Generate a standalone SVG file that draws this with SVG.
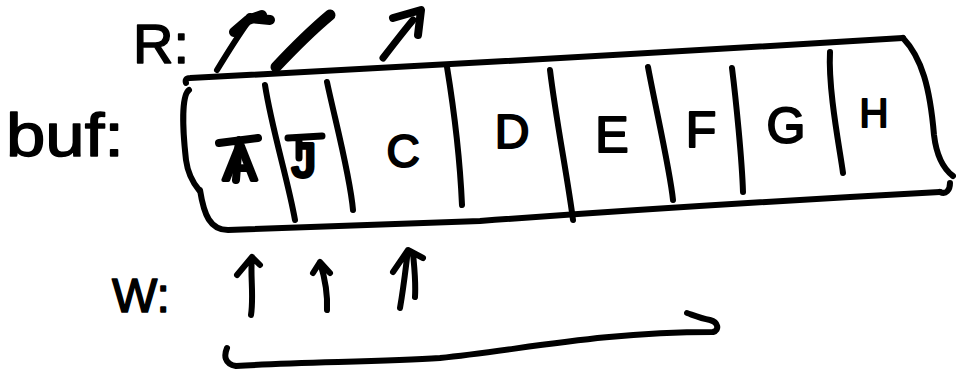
<svg xmlns="http://www.w3.org/2000/svg" width="956" height="375" viewBox="0 0 956 375">
<style>
.s{fill:none;stroke:#000;stroke-width:6;stroke-linecap:round;stroke-linejoin:round}
.t{stroke:#000;stroke-width:2;stroke-linejoin:round;font-family:"Liberation Sans","DejaVu Sans",sans-serif;fill:#000;text-anchor:middle}
.l{stroke:#000;stroke-width:1.5;stroke-linejoin:round;font-family:"Liberation Sans","DejaVu Sans",sans-serif;fill:#000}
</style>
<rect width="956" height="375" fill="#fff"/>
<g id="labels">
<text class="l" x="133" y="63" font-size="56">R:</text>
<text class="l" x="6" y="156" font-size="62" textLength="118" lengthAdjust="spacingAndGlyphs">buf:</text>
<text class="l" x="112" y="312" font-size="48">W:</text>
</g>
<g id="buffer">
<path class="s" d="M186,83 C185,80 186,78 190,78 Q540,60 903,38"/>
<path class="s" d="M903,38 C922,58 930,88 934,135 C937,160 945,170 953,176"/>
<path class="s" d="M950,183 C950,190 946,195 940,192"/>
<path class="s" d="M940,192 Q700,205 480,221 L228,230 C210,230 204,215 200,190"/>
<path class="s" d="M189,90 C182,95 182,125 186,160 C188,175 194,184 199,190"/>
</g>
<g id="dividers">
<path class="s" d="M265,85 C272,130 288,180 295,220"/>
<path class="s" d="M327,82 C335,120 350,175 353,210"/>
<path class="s" d="M447,67 C454,110 460,160 462,205"/>
<path class="s" d="M550,70 C556,120 568,180 573,220"/>
<path class="s" d="M648,67 C656,110 670,170 673,200"/>
<path class="s" d="M732,68 C736,100 742,160 743,192"/>
<path class="s" d="M830,52 C828,90 840,150 843,173"/>
</g>
<g id="cell-A"><text class="t" x="240" y="180" font-size="50" style="stroke-width:4">A</text><path class="s" d="M219,143 L258,138 M239,140 L236,180" style="stroke-width:8"/></g>
<g id="cell-J"><text class="t" x="304" y="177" font-size="48" style="stroke-width:4">J</text><path class="s" d="M288,138 L322,136 M299,140 L299,158" style="stroke-width:7"/></g>
<g id="cell-C"><text class="t" x="403" y="167" font-size="46">C</text></g>
<g id="cell-D"><text class="t" x="512" y="148" font-size="48">D</text></g>
<g id="cell-E"><text class="t" x="612" y="152" font-size="50">E</text></g>
<g id="cell-F"><text class="t" x="701" y="147" font-size="50">F</text></g>
<g id="cell-G"><text class="t" x="786" y="143" font-size="50">G</text></g>
<g id="cell-H"><text class="t" x="874" y="127" font-size="40">H</text></g>
<g id="connectors">
<path class="s" d="M217,70 C228,52 238,36 248,22"/>
<path class="s" d="M234,32 L248,20 L262,15 M250,18 L270,20" style="stroke-width:10"/>
<path class="s" d="M276,67 C292,50 312,30 330,15" style="stroke-width:11"/>
<path class="s" d="M383,58 C393,45 403,32 413,20" style="stroke-width:7"/>
<path class="s" d="M393,18 L421,10 L418,35" style="stroke-width:8"/>
<path class="s" d="M251,315 C254,295 250,275 252,257 M237,275 L252,257 L260,265"/>
<path class="s" d="M327,310 C328,290 324,275 320,262 M313,273 L320,262 L330,273"/>
<path class="s" d="M400,308 C404,285 406,265 408,250 M415,297 C416,280 414,265 413,253 M393,272 L408,250 L423,258"/>
<path class="s" d="M227,348 C224,355 224,364 236,366 C300,362 380,362 440,358 C520,350 600,332 713,332 C720,330 718,322 710,320 C700,318 693,315 687,313"/>
</g>
</svg>
